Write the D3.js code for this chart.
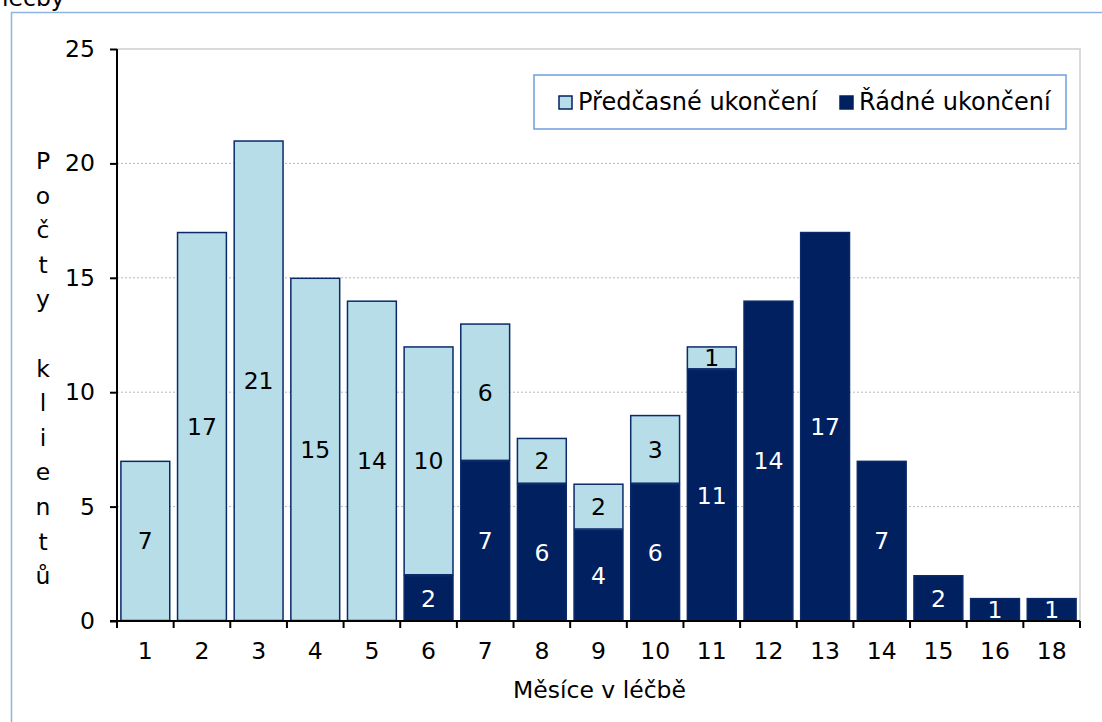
<!DOCTYPE html>
<html><head><meta charset="utf-8">
<script src="https://cdn.jsdelivr.net/npm/d3@7"></script>
<style>body{margin:0;background:#fff}svg{display:block;font-family:"DejaVu Sans",Verdana,sans-serif}</style>
</head><body><svg id="c" width="1102" height="722"></svg>
<script>
const months = ["1","2","3","4","5","6","7","8","9","10","11","12","13","14","15","16","18"];
const radne = [0,0,0,0,0,2,7,6,4,6,11,14,17,7,2,1,1];
const predcasne = [7,17,21,15,14,10,6,2,2,3,1,0,0,0,0,0,0];
const seriesNames = ["Řádné ukončení","Předčasné ukončení"];
const yTicks = [0,5,10,15,20,25];
const colors = {"Řádné ukončení":"#002060","Předčasné ukončení":"#b7dde8"};
const FS = 23.5;

const svg = d3.select("#c");
const L=117,R=1080,T=49,B=621;
const x = d3.scaleBand().domain(months).range([L,R]).paddingInner(0.12).paddingOuter(0.06);
const y = d3.scaleLinear().domain([0,25]).range([B,T]);

// outer frame
svg.append("path").attr("d",`M11.5,722 V12.5 H1102`).attr("fill","none").attr("stroke","#8db4e2").attr("stroke-width",1.5);
svg.append("text").attr("x",2).attr("y",6).attr("font-size",FS).text("léčby");

// plot border
svg.append("path").attr("d",`M${L},${T} H${R} V${B}`).attr("fill","none").attr("stroke","#d9d9d9").attr("stroke-width",2);
// grid
svg.append("g").selectAll("line").data(yTicks.filter(d=>d>0&&d<25)).join("line")
  .attr("x1",L).attr("x2",R).attr("y1",d=>y(d)).attr("y2",d=>y(d))
  .attr("stroke","#b8b8b8").attr("stroke-width",1).attr("stroke-dasharray","2,2");

const data = months.map((m,i)=>({m, "Řádné ukončení":radne[i], "Předčasné ukončení":predcasne[i]}));
const stack = d3.stack().keys(seriesNames)(data);
const g = svg.append("g");
stack.forEach(s=>{
  const key=s.key;
  g.selectAll(null).data(s.filter(d=>d[1]-d[0]>0)).join("rect")
   .attr("x",d=>x(d.data.m)+0.5).attr("width",x.bandwidth()-1)
   .attr("y",d=>y(d[1])+0.5).attr("height",d=>y(d[0])-y(d[1])-1)
   .attr("fill",colors[key]).attr("stroke","#0a2a6a").attr("stroke-width",1.5);
  g.selectAll(null).data(s.filter(d=>d[1]-d[0]>0)).join("text")
   .attr("x",d=>x(d.data.m)+x.bandwidth()/2).attr("y",d=>y((d[0]+d[1])/2)+8.5)
   .attr("text-anchor","middle").attr("font-size",FS)
   .attr("fill",key==="Řádné ukončení"?"#fff":"#000").text(d=>d[1]-d[0]);
});

// axes
const ya = svg.append("g").attr("transform",`translate(${L},0)`)
  .call(d3.axisLeft(y).tickValues(yTicks).tickSize(7).tickPadding(15));
ya.select(".domain").attr("stroke","#000").attr("stroke-width",2).attr("d",`M0,${B}V${T}`);
ya.selectAll(".tick line").attr("stroke","#000").attr("stroke-width",2);
ya.selectAll("text").attr("font-size",FS).attr("font-family","DejaVu Sans").attr("fill","#000");

const xa = svg.append("g").attr("transform",`translate(0,${B})`)
  .call(d3.axisBottom(x).tickSize(0).tickPadding(21));
xa.select(".domain").attr("stroke","#000").attr("stroke-width",2).attr("d",`M${L-7},0H${R}`);
xa.selectAll("text").attr("font-size",FS).attr("font-family","DejaVu Sans").attr("fill","#000");
const step = x.step();
const bounds = months.map((m,i)=>x(m)-x.paddingInner()*step/2).concat([R]);
svg.append("g").selectAll("line").data(bounds).join("line")
  .attr("x1",d=>d).attr("x2",d=>d).attr("y1",B).attr("y2",B+7).attr("stroke","#000").attr("stroke-width",2);

// axis titles
svg.append("text").attr("x",(L+R)/2+1).attr("y",698).attr("text-anchor","middle").attr("font-size",FS).text("Měsíce v léčbě");
const yt = "Počty klientů".split("");
svg.append("g").selectAll("text").data(yt).join("text")
  .attr("x",43).attr("y",(d,i)=>169+i*34.6).attr("text-anchor","middle").attr("font-size",FS).text(d=>d);

// legend
const lg = svg.append("g");
lg.append("rect").attr("x",534).attr("y",75).attr("width",532).attr("height",54).attr("fill","#fff").attr("stroke","#6f9fdc").attr("stroke-width",1.5);
const items=[{k:"Předčasné ukončení",x:559},{k:"Řádné ukončení",x:840}];
items.forEach(it=>{
  lg.append("rect").attr("x",it.x).attr("y",96).attr("width",13).attr("height",13).attr("fill",colors[it.k]).attr("stroke","#002060").attr("stroke-width",1.5);
  lg.append("text").attr("x",it.x+19).attr("y",110).attr("font-size",24).text(it.k);
});
</script></body></html>
